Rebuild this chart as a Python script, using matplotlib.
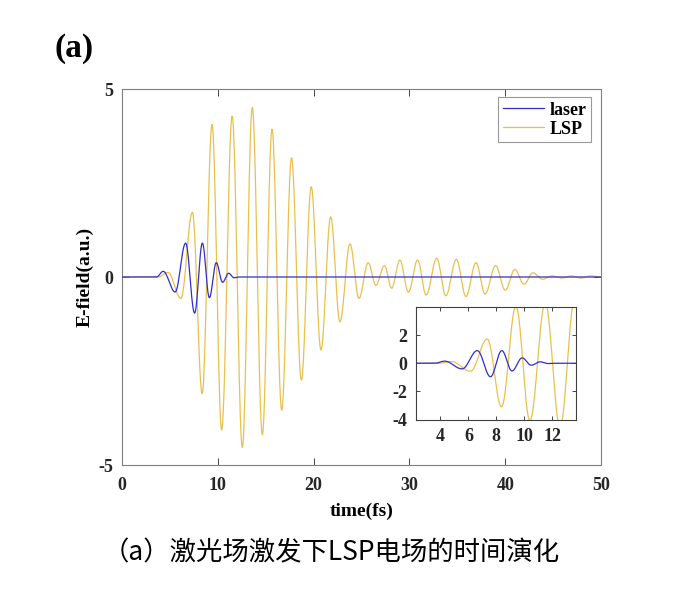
import numpy as np
import matplotlib
matplotlib.use('Agg')
import matplotlib.pyplot as plt

# extrema: (time fs, field a.u.)
laser_t = [0, 3.6, 4.3, 5.55, 6.64, 7.58, 8.39, 9.12, 9.84, 10.5, 11.13, 11.7, 12.2, 50]
laser_v = [0, 0, 0.15, -0.40, 0.90, -0.96, 0.90, -0.55, 0.38, -0.14, 0.10, -0.02, 0, 0]

lsp_t = [0, 3.8, 4.8, 6.15, 7.35, 8.37, 9.4, 10.4, 11.5, 12.56, 13.6, 14.65, 15.66,
         16.67, 17.7, 18.72, 19.75, 20.77, 21.78, 22.75, 23.8, 24.73, 25.7, 26.5,
         27.4, 28.15, 29.0, 29.9, 30.85, 31.75, 32.85, 33.8, 34.9, 35.9, 36.95,
         37.9, 39.0, 40.0, 41.0, 41.96, 42.9, 43.9, 44.9, 45.9, 46.9, 47.9, 48.9, 50]
lsp_v = [0, 0, 0.12, -0.57, 1.72, -3.10, 4.06, -4.07, 4.28, -4.53, 4.51, -4.20, 3.93,
         -3.54, 3.17, -2.74, 2.40, -1.94, 1.60, -1.19, 0.88, -0.57, 0.38, -0.22,
         0.30, -0.30, 0.45, -0.40, 0.45, -0.48, 0.50, -0.50, 0.47, -0.52, 0.38,
         -0.45, 0.30, -0.35, 0.20, -0.19, 0.11, -0.06, 0.03, -0.03, 0.03, -0.03, 0.03, 0]

xticks_main = [0, 10, 20, 30, 40, 50]
yticks_main = [-5, 0, 5]
xticks_ins = [4, 6, 8, 10, 12]
yticks_ins = [-4, -2, 0, 2]

caption = '（a）激光场激发下LSP电场的时间演化'


def smooth(tp, vp, n=40):
    # half-cosine between neighbouring extrema
    ts, vs = [], []
    for i in range(len(tp) - 1):
        s = np.linspace(0, 1, n, endpoint=False)
        ts.append(tp[i] + (tp[i + 1] - tp[i]) * s)
        vs.append(vp[i] + (vp[i + 1] - vp[i]) * (1 - np.cos(np.pi * s)) / 2)
    ts.append([tp[-1]])
    vs.append([vp[-1]])
    return np.concatenate(ts), np.concatenate(vs)


lt, lv = smooth(laser_t, laser_v)
yt, yv = smooth(lsp_t, lsp_v)

blue = '#2f2fd0'
yellow = '#e9c04e'
gray = '#262626'

plt.rcParams['font.family'] = ['Liberation Serif']
plt.rcParams['font.weight'] = 'bold'
plt.rcParams['axes.unicode_minus'] = False

fig = plt.figure(figsize=(6.87, 5.99), dpi=100)

ax = fig.add_axes([122 / 687, 1 - 465 / 599, 479 / 687, 376 / 599])
ax.plot(lt, lv, color=blue, lw=0.9, label='laser', zorder=3)
ax.plot(yt, yv, color=yellow, lw=0.9, label='LSP', zorder=2)
ax.set_xlim(0, 50)
ax.set_ylim(-5, 5)
ax.set_xticks(xticks_main)
ax.set_yticks(yticks_main)
ax.tick_params(direction='in', top=True, right=True, length=5, width=0.6,
               labelsize=13, pad=6, colors=gray)
ax.tick_params(axis='x', pad=9)
for sp in ax.spines.values():
    sp.set_color('#7f7f7f')
    sp.set_linewidth(0.8)
ax.set_xlabel('time(fs)', fontsize=14, fontweight='bold', labelpad=6)
ax.set_ylabel('E-field(a.u.)', fontsize=14, fontweight='bold', labelpad=4)
leg = ax.legend(loc='upper right', bbox_to_anchor=(0.98, 0.978), fontsize=13,
                frameon=True, fancybox=False, edgecolor='#7f7f7f', handlelength=2.3,
                handletextpad=0.3, borderpad=0.25, labelspacing=0.1, borderaxespad=0)
leg.get_frame().set_linewidth(0.8)

ins = fig.add_axes([416 / 687, 1 - 419.5 / 599, 160 / 687, 112.5 / 599])
ins.plot(lt, lv, color=blue, lw=0.9, zorder=3)
ins.plot(yt, yv, color=yellow, lw=0.9, zorder=2)
ins.set_xlim(2.25, 13.7)
ins.set_ylim(-4, 4)
ins.set_xticks(xticks_ins)
ins.set_yticks(yticks_ins)
ins.tick_params(direction='in', top=True, right=True, length=3, width=0.6,
                labelsize=13, pad=6, colors=gray)
for sp in ins.spines.values():
    sp.set_color('#404040')
    sp.set_linewidth(0.8)

fig.text(55 / 687, 1 - 48 / 599, '(a)', fontsize=24, fontweight='bold', va='center')
fig.text(331 / 687, 1 - 553 / 599, caption, fontsize=19, ha='center', va='center',
         family=['Noto Sans CJK SC', 'DejaVu Sans'], fontweight='normal')

fig.savefig('out.png', dpi=100)
